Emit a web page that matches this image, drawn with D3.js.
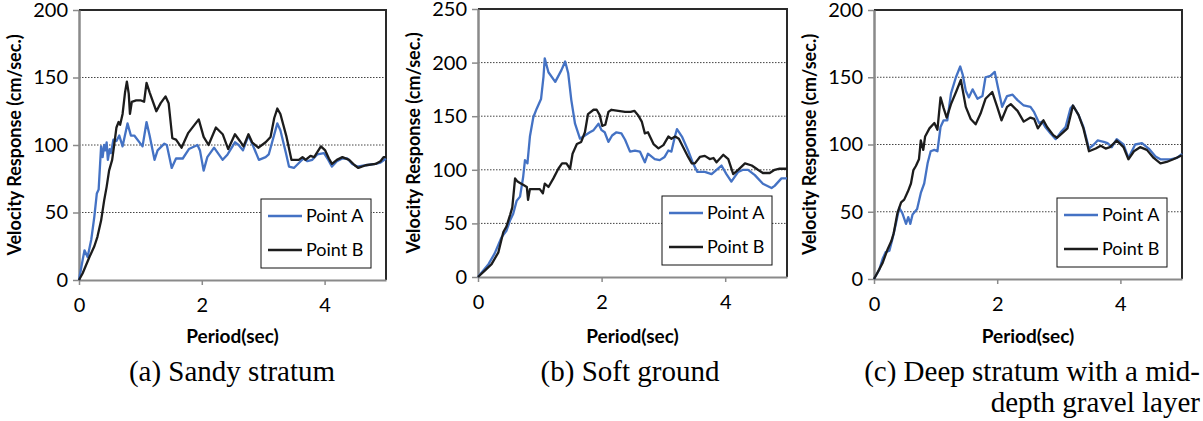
<!DOCTYPE html>
<html>
<head>
<meta charset="utf-8">
<script src="https://cdn.jsdelivr.net/npm/d3@7"></script>
<style>
  body { margin: 0; background: #fff; }
  svg { display: block; }
</style>
</head>
<body>
<svg id="chart" width="1203" height="421"></svg>
<script>
// ---- data -------------------------------------------------------------
const periodTicks = [0, 2, 4];
const sandyTicks = [0, 50, 100, 150, 200];
const softTicks = [0, 50, 100, 150, 200, 250];
const deepTicks = [0, 50, 100, 150, 200];
const seriesNames = ["Point A", "Point B"];
const xTitle = "Period(sec)";
const yTitle = "Velocity Response (cm/sec.)";

// (a) Sandy stratum
const sandyPeriodA = [0,0.06,0.09,0.14,0.2,0.25,0.29,0.32,0.36,0.385,0.41,0.43,0.45,0.47,0.5,0.52,0.56,0.61,0.656,0.71,0.79,0.845,0.9,1.035,1.1,1.15,1.23,1.28,1.39,1.43,1.51,1.58,1.69,1.79,1.93,1.97,2.03,2.09,2.2,2.34,2.42,2.54,2.6,2.67,2.76,2.82,2.93,3.04,3.09,3.23,3.28,3.37,3.42,3.5,3.61,3.66,3.72,3.8,3.88,3.99,4.06,4.12,4.2,4.29,4.37,4.45,4.53,4.67,4.83,4.91,5.0];
const sandyVelA    = [0,15,22,17,30,47,64,67,99,91,100,96,102,89,97,94,104,103,107,99,116,107,107,99,117,107,89,96,101,100,83,90,90,97,100,96,81,91,98,89,93,102,100,96,107,101,89,91,93,116,111,94,84,83,88,90,88,89,93,94,89,84,88,90,90,86,84,85,86,87,90];
const sandyPeriodB = [0,0.06,0.17,0.25,0.3,0.36,0.41,0.45,0.49,0.54,0.57,0.61,0.645,0.67,0.71,0.75,0.78,0.81,0.83,0.86,0.93,1.01,1.06,1.1,1.15,1.26,1.33,1.41,1.46,1.52,1.58,1.67,1.78,1.95,2.03,2.11,2.23,2.34,2.43,2.54,2.62,2.68,2.76,2.82,2.92,3.04,3.12,3.18,3.23,3.28,3.38,3.46,3.58,3.64,3.69,3.77,3.83,3.94,4.01,4.07,4.12,4.2,4.29,4.4,4.49,4.55,4.67,4.83,4.91,4.96,5.0];
const sandyVelB    = [0,5,17,25,32,44,59,69,81,89,99,113,117,115,123,139,147,138,123,132,133,133,132,146,139,125,131,136,131,105,104,98,109,119,106,100,113,108,97,108,103,99,108,102,98,102,106,120,127,123,106,89,89,91,89,92,91,99,96,90,86,89,91,89,85,83,85,86,88,91,91];

// (b) Soft ground
const softPeriodA = [0,0.086,0.17,0.27,0.38,0.46,0.52,0.57,0.625,0.68,0.73,0.76,0.8,0.84,0.895,0.95,1.02,1.06,1.08,1.14,1.25,1.35,1.41,1.46,1.51,1.57,1.65,1.73,1.81,1.87,1.95,2.0,2.05,2.11,2.17,2.24,2.32,2.38,2.46,2.54,2.62,2.7,2.75,2.86,2.94,3.02,3.08,3.13,3.19,3.22,3.3,3.4,3.48,3.55,3.67,3.78,3.86,3.94,4.02,4.1,4.21,4.29,4.37,4.48,4.61,4.75,4.8,4.91,5.0];
const softVelA    = [0,6,12,22,37,43,53,59,71,75,93,109,106,131,149,157,166,187,204,191,182,193,201,190,165,143,129,132,135,137,143,137,135,126,132,135,134,128,117,118,117,107,115,110,109,112,118,117,132,138,131,118,106,98,98,96,100,104,96,89,98,100,100,95,87,83,85,92,92];
const softPeriodB = [0,0.11,0.22,0.33,0.41,0.46,0.52,0.555,0.6,0.64,0.7,0.73,0.79,0.81,0.84,0.9,1.0,1.05,1.08,1.14,1.22,1.3,1.36,1.43,1.49,1.53,1.6,1.67,1.73,1.78,1.87,1.92,1.97,2.01,2.06,2.11,2.16,2.27,2.38,2.47,2.53,2.59,2.65,2.7,2.75,2.84,2.92,3.0,3.08,3.13,3.19,3.25,3.32,3.4,3.46,3.51,3.59,3.67,3.75,3.81,3.86,3.97,4.05,4.13,4.21,4.32,4.43,4.53,4.61,4.72,4.8,4.88,5.0];
const softVelB    = [0,6,12,23,42,47,58,65,92,89,87,86,84,72,82,82,82,78,87,84,92,101,106,106,101,115,124,126,135,152,156,156,151,141,142,154,156,155,154,154,155,151,145,134,135,124,120,123,131,129,131,129,121,112,106,106,112,113,110,111,107,114,110,96,100,106,104,100,97,97,100,101,101];

// (c) Deep stratum with a mid-depth gravel layer
const deepPeriodA = [0,0.086,0.14,0.19,0.25,0.3,0.36,0.41,0.46,0.52,0.556,0.59,0.626,0.7,0.76,0.815,0.87,0.92,0.98,1.03,1.08,1.13,1.19,1.25,1.33,1.4,1.44,1.49,1.54,1.6,1.68,1.76,1.81,1.89,1.96,2.01,2.08,2.16,2.25,2.33,2.43,2.54,2.6,2.68,2.73,2.78,2.87,2.95,3.03,3.11,3.19,3.23,3.32,3.4,3.49,3.57,3.63,3.73,3.79,3.86,3.94,4.05,4.13,4.24,4.35,4.46,4.57,4.65,4.81,4.92,5.0];
const deepVelA    = [0,7,15,20,21,30,42,53,49,41,46,41,48,52,64,71,86,95,96,95,113,118,118,138,150,158,152,140,135,141,134,136,150,151,154,143,128,136,137,133,129,128,124,116,117,113,108,104,109,113,127,129,122,113,97,100,103,102,101,98,104,100,90,100,101,97,91,89,89,90,93];
const deepPeriodB = [0,0.06,0.14,0.22,0.28,0.32,0.38,0.44,0.49,0.55,0.6,0.64,0.68,0.73,0.76,0.8,0.83,0.9,0.98,1.03,1.08,1.13,1.18,1.25,1.34,1.41,1.49,1.57,1.65,1.73,1.81,1.92,2.0,2.07,2.16,2.22,2.33,2.43,2.54,2.6,2.66,2.75,2.81,2.91,2.97,3.07,3.14,3.23,3.32,3.4,3.49,3.6,3.68,3.76,3.83,3.94,4.05,4.13,4.22,4.32,4.43,4.54,4.65,4.75,4.86,5.0];
const deepVelB    = [0,5,12,22,28,34,49,57,59,65,71,81,84,89,103,96,106,112,116,111,135,127,120,130,140,148,128,119,115,123,134,139,128,118,128,130,125,117,120,119,112,118,113,107,105,109,112,129,122,112,95,97,99,97,98,103,98,89,95,98,96,90,86,87,89,92];

// ---- layout -----------------------------------------------------------
const panels = [
  { L: 79,  R: 386,  T: 10, B: 280, yMax: 200, ticks: sandyTicks,
    a: [sandyPeriodA, sandyVelA], b: [sandyPeriodB, sandyVelB],
    caption: ["(a) Sandy stratum"], capAnchor: "middle", capX: 232 },
  { L: 478, R: 787,  T: 9,  B: 277, yMax: 250, ticks: softTicks,
    a: [softPeriodA, softVelA], b: [softPeriodB, softVelB],
    caption: ["(b) Soft ground"], capAnchor: "middle", capX: 630 },
  { L: 874, R: 1182, T: 10, B: 279, yMax: 200, ticks: deepTicks,
    a: [deepPeriodA, deepVelA], b: [deepPeriodB, deepVelB],
    caption: ["(c) Deep stratum with a mid-", "depth gravel layer"], capAnchor: "end", capX: 1200 }
];

const colors = ["#4472C4", "#1c1c1c"];
const sansFont = "Lato, 'Open Sans', sans-serif";
const serifFont = "'Liberation Serif', 'Times New Roman', serif";

const svg = d3.select("#chart");

panels.forEach(p => {
  const g = svg.append("g");
  const x = d3.scaleLinear().domain([0, 5]).range([p.L, p.R]);
  const y = d3.scaleLinear().domain([0, p.yMax]).range([p.B, p.T]);

  // dotted horizontal gridlines
  g.append("g").selectAll("line")
    .data(p.ticks.filter(t => t > 0 && t < p.yMax))
    .join("line")
    .attr("x1", p.L).attr("x2", p.R)
    .attr("y1", d => y(d)).attr("y2", d => y(d))
    .attr("stroke", "#444").attr("stroke-width", 1)
    .attr("stroke-dasharray", "1.5,1.5");

  // plot frame: top and right edges
  g.append("path")
    .attr("d", `M${p.L},${p.T}H${p.R}V${p.B}`)
    .attr("fill", "none").attr("stroke", "#2a2a2a").attr("stroke-width", 2);

  // y axis
  const yAxis = g.append("g")
    .attr("transform", `translate(${p.L},0)`)
    .call(d3.axisLeft(y).tickValues(p.ticks).tickSize(6).tickSizeOuter(0).tickPadding(5));
  yAxis.select(".domain").attr("stroke", "#8a8a8a").attr("stroke-width", 2.5);
  yAxis.selectAll(".tick line").attr("stroke", "#8a8a8a").attr("stroke-width", 1.5);
  yAxis.selectAll(".tick text")
    .attr("font-family", sansFont).attr("font-size", 20).attr("fill", "#000");

  // x axis
  const xAxis = g.append("g")
    .attr("transform", `translate(0,${p.B})`)
    .call(d3.axisBottom(x).tickValues(periodTicks).tickFormat(d3.format("d"))
      .tickSize(5).tickSizeOuter(0).tickPadding(13));
  xAxis.select(".domain").attr("stroke", "#8a8a8a").attr("stroke-width", 2);
  xAxis.selectAll(".tick line").attr("stroke", "#8a8a8a").attr("stroke-width", 1.5);
  xAxis.selectAll(".tick text")
    .attr("font-family", sansFont).attr("font-size", 20).attr("fill", "#000");

  // response curves
  const line = d3.line().x(d => x(d[0])).y(d => y(d[1]));
  [p.a, p.b].forEach((s, i) => {
    const pts = s[0].map((v, k) => [v, s[1][k]]);
    g.append("path")
      .datum(pts)
      .attr("d", line)
      .attr("fill", "none")
      .attr("stroke", colors[i])
      .attr("stroke-width", 2.3)
      .attr("stroke-linejoin", "round");
  });

  // legend
  const lg = g.append("g").attr("transform", `translate(${p.R - 125},${p.B - 81})`);
  lg.append("rect").attr("width", 110).attr("height", 69)
    .attr("fill", "#fff").attr("stroke", "#111").attr("stroke-width", 1);
  seriesNames.forEach((name, i) => {
    const yy = 17 + i * 34;
    lg.append("line").attr("x1", 7).attr("x2", 41).attr("y1", yy).attr("y2", yy)
      .attr("stroke", colors[i]).attr("stroke-width", 2.5);
    lg.append("text").attr("x", 45).attr("y", yy).attr("dy", "0.36em")
      .attr("font-family", sansFont).attr("font-size", 18).text(name);
  });

  // axis titles
  g.append("text")
    .attr("transform", `translate(${p.L - 64},${(p.T + p.B) / 2}) rotate(-90)`)
    .attr("text-anchor", "middle").attr("dy", "0.35em")
    .attr("font-family", sansFont).attr("font-weight", "bold").attr("font-size", 18)
    .text(yTitle);
  g.append("text")
    .attr("x", (p.L + p.R) / 2).attr("y", 343)
    .attr("text-anchor", "middle")
    .attr("font-family", sansFont).attr("font-weight", "bold").attr("font-size", 19)
    .text(xTitle);

  // caption
  p.caption.forEach((c, i) => {
    g.append("text")
      .attr("x", p.capX).attr("y", 381 + i * 31)
      .attr("text-anchor", p.capAnchor)
      .attr("font-family", serifFont).attr("font-size", 29)
      .text(c);
  });
});
</script>
</body>
</html>
